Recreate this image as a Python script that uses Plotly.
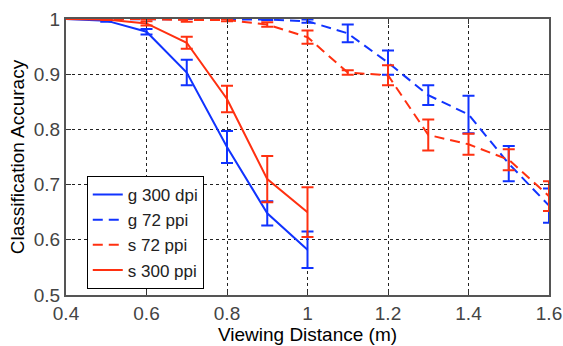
import plotly.graph_objects as go

x_short = [0.4, 0.5, 0.6, 0.7, 0.8, 0.9, 1.0]
x_long = [0.4, 0.5, 0.6, 0.7, 0.8, 0.9, 1.0, 1.1, 1.2, 1.3, 1.4, 1.5, 1.6]

g300 = [1.0, 0.997, 0.977, 0.903, 0.768, 0.648, 0.582]
g300_err = [0, 0.002, 0.005, 0.023, 0.029, 0.022, 0.033]
s300 = [1.0, 0.999, 0.992, 0.957, 0.855, 0.710, 0.650]
s300_err = [0, 0.001, 0.004, 0.011, 0.024, 0.042, 0.045]

g72 = [1.0, 1.0, 1.0, 1.0, 1.0, 0.999, 0.996, 0.974, 0.921, 0.862, 0.827, 0.738, 0.662]
g72_err = [0, 0, 0, 0, 0, 0.001, 0.003, 0.016, 0.022, 0.018, 0.034, 0.032, 0.031]
s72 = [1.0, 1.0, 1.0, 0.998, 0.998, 0.990, 0.967, 0.903, 0.898, 0.790, 0.773, 0.745, 0.679]
s72_err = [0, 0, 0, 0.003, 0.002, 0.004, 0.012, 0.004, 0.018, 0.028, 0.019, 0.019, 0.027]

x_ticks = [0.4, 0.6, 0.8, 1.0, 1.2, 1.4, 1.6]
x_tick_labels = ["0.4", "0.6", "0.8", "1", "1.2", "1.4", "1.6"]
y_ticks = [0.5, 0.6, 0.7, 0.8, 0.9, 1.0]
y_tick_labels = ["0.5", "0.6", "0.7", "0.8", "0.9", "1"]

BLUE = "#1033ff"
RED = "#ff3010"
FONT = "Liberation Sans, Arial, sans-serif"

def trace(x, y, err, name, color, dash):
    return go.Scatter(
        x=x, y=y, name=name, mode="lines",
        line=dict(color=color, width=2, dash=dash),
        error_y=dict(type="data", array=err, visible=True, color=color, thickness=2, width=6),
        cliponaxis=False,
    )

fig = go.Figure()
fig.add_trace(trace(x_short, g300, g300_err, "g 300 dpi", BLUE, "solid"))
fig.add_trace(trace(x_long, g72, g72_err, "g 72 ppi", BLUE, "10px,6px"))
fig.add_trace(trace(x_long, s72, s72_err, "s 72 ppi", RED, "10px,6px"))
fig.add_trace(trace(x_short, s300, s300_err, "s 300 ppi", RED, "solid"))

axis_common = dict(
    showline=True, mirror="ticks", linecolor="#555", linewidth=2,
    ticks="inside", ticklen=5, tickcolor="#333",
    showgrid=True, gridcolor="#222", gridwidth=1, griddash="dot",
    zeroline=False, automargin=False,
    tickfont=dict(family=FONT, size=19, color="#444"),
)

fig.update_xaxes(range=[0.4, 1.6], tickvals=x_ticks, ticktext=x_tick_labels,
                 title=dict(text="Viewing Distance (m)", standoff=0,
                            font=dict(family=FONT, size=19, color="#000")),
                 **axis_common)
fig.update_yaxes(range=[0.5, 1.0], tickvals=y_ticks, ticktext=y_tick_labels,
                 title=dict(text="Classification Accuracy", standoff=4,
                            font=dict(family=FONT, size=19, color="#000")),
                 **axis_common)

fig.update_layout(
    width=563, height=346,
    margin=dict(l=66, r=14, t=19, b=51),
    paper_bgcolor="white", plot_bgcolor="white",
    font=dict(family=FONT, size=17, color="#111"),
    legend=dict(
        x=0.043, y=0.431, xanchor="left", yanchor="top",
        bgcolor="white", bordercolor="black", borderwidth=1,
        font=dict(family=FONT, size=17, color="#222"), tracegroupgap=0,
    ),
    showlegend=True,
)

fig.write_html("out.html", config={"displayModeBar": False},
               post_script="document.body.style.margin='0';")
